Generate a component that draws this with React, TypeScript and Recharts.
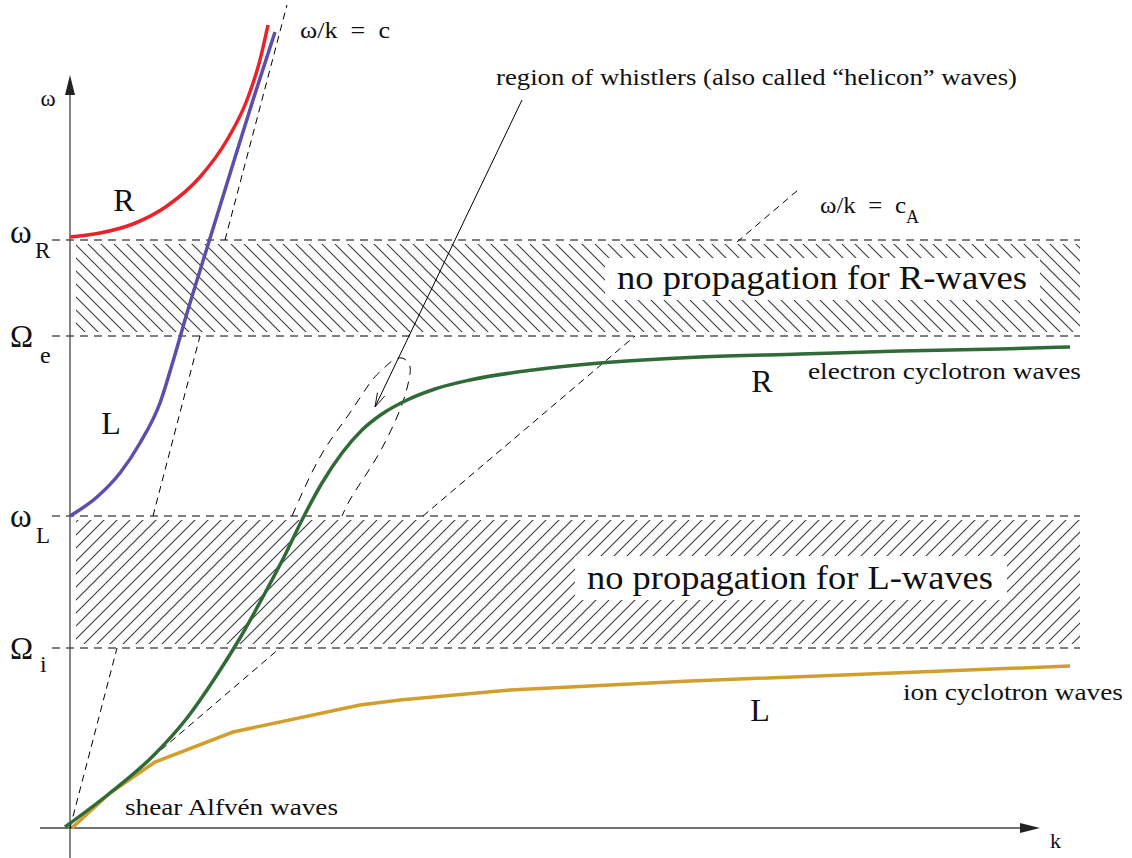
import React from "react";
import { ComposedChart, Line, XAxis, YAxis, ReferenceLine, ReferenceArea, ReferenceDot } from "recharts";

// plot units: one unit = one pixel, origin where the k and ω axes cross
const R_HIGH = [
  { x: 0, y: 591 }, { x: 30, y: 595 }, { x: 63, y: 604 }, { x: 97, y: 622 }, { x: 130, y: 651 },
  { x: 157, y: 688 }, { x: 177, y: 728 }, { x: 190, y: 768 }, { x: 198, y: 803 },
];
const L_HIGH = [
  { x: 0, y: 312 }, { x: 27, y: 331 }, { x: 50, y: 355 }, { x: 70, y: 385 }, { x: 90, y: 425 },
  { x: 104, y: 470 }, { x: 117, y: 515 }, { x: 137, y: 580 }, { x: 163, y: 664 }, { x: 183, y: 728 },
  { x: 205, y: 796 },
];
const R_LOW = [
  { x: -5, y: 1 }, { x: 40, y: 35 }, { x: 83, y: 72 }, { x: 117, y: 110 }, { x: 145, y: 150 },
  { x: 170, y: 190 }, { x: 195, y: 235 }, { x: 215, y: 273 }, { x: 233, y: 310 }, { x: 252, y: 345 },
  { x: 272, y: 375 }, { x: 292, y: 398 }, { x: 312, y: 414 }, { x: 335, y: 427 }, { x: 365, y: 439 },
  { x: 400, y: 448 }, { x: 463, y: 458 }, { x: 530, y: 465 }, { x: 630, y: 471 }, { x: 730, y: 474 },
  { x: 830, y: 477 }, { x: 930, y: 479 }, { x: 1000, y: 481 },
];
const L_LOW = [
  { x: 2, y: 0 }, { x: 40, y: 35 }, { x: 85, y: 66 }, { x: 163, y: 96 }, { x: 290, y: 123 },
  { x: 330, y: 128 }, { x: 440, y: 138 }, { x: 620, y: 147 }, { x: 1000, y: 162 },
];

// ω/k = c and ω/k = c_A, visible pieces between the stop bands
const LIGHT_LINE = [
  [{ x: 0, y: 0 }, { x: 47, y: 180 }],
  [{ x: 83, y: 312 }, { x: 130, y: 492 }],
  [{ x: 155, y: 588 }, { x: 217, y: 823 }],
];
const ALFVEN_LINE = [
  [{ x: 0, y: 0 }, { x: 210, y: 180 }],
  [{ x: 353, y: 312 }, { x: 565, y: 492 }],
  [{ x: 667, y: 586 }, { x: 728, y: 638 }],
];
const WHISTLER_LOOP = [
  { x: 222, y: 312 }, { x: 250, y: 371 }, { x: 277, y: 411 }, { x: 300, y: 445 }, { x: 312, y: 458 },
  { x: 322, y: 467 }, { x: 332, y: 470 }, { x: 339, y: 464 }, { x: 340, y: 454 }, { x: 336, y: 436 },
  { x: 327, y: 411 }, { x: 307, y: 371 }, { x: 284, y: 335 }, { x: 272, y: 312 },
];
const WHISTLER_ARROW = [{ x: 452, y: 728 }, { x: 305, y: 421 }];

const LEVELS = [588, 492, 312, 180]; // ωR, Ωe, ωL, Ωi
const BANDS = [
  { lo: 492, hi: 588, fill: "url(#hatchR)" },
  { lo: 180, hi: 312, fill: "url(#hatchL)" },
];
const BOXES = [
  { x1: 535, x2: 970, y1: 528, y2: 570 },
  { x1: 505, x2: 937, y1: 228, y2: 272 },
];

const NB = "\u00a0";
type Note = { text: string; x: number; y: number; size: number; width?: number; anchor?: "start" | "middle" };
const NOTES: Note[] = [
  { text: `ω/k${NB}${NB}=${NB}${NB}c`, x: 230, y: 798, size: 23, width: 90 },
  { text: "ω", x: -22, y: 730, size: 23, anchor: "middle" },
  { text: "R", x: 54, y: 628, size: 32, anchor: "middle" },
  { text: "L", x: 41, y: 405, size: 32, anchor: "middle" },
  { text: "R", x: 692, y: 447, size: 32, anchor: "middle" },
  { text: "L", x: 690, y: 118, size: 32, anchor: "middle" },
  { text: "electron cyclotron waves", x: 738, y: 457, size: 24, width: 273 },
  { text: "ion cyclotron waves", x: 833, y: 136, size: 24, width: 220 },
  { text: "shear Alfvén waves", x: 55, y: 21, size: 24, width: 213 },
  { text: "region of whistlers (also called “helicon” waves)", x: 426, y: 751, size: 24, width: 521 },
  { text: `ω/k${NB}${NB}=${NB}${NB}c`, x: 750, y: 623, size: 23, width: 86 },
  { text: "A", x: 836, y: 611, size: 18 },
  { text: "no propagation for R-waves", x: 547, y: 551, size: 34, width: 410 },
  { text: "no propagation for L-waves", x: 517, y: 251, size: 34, width: 406 },
  { text: "k", x: 980, y: -12, size: 22 },
  { text: "ω", x: -60, y: 596, size: 33 },
  { text: "R", x: -35, y: 578, size: 23 },
  { text: "Ω", x: -60, y: 492, size: 31 },
  { text: "e", x: -30, y: 473, size: 24 },
  { text: "ω", x: -60, y: 312, size: 33 },
  { text: "L", x: -34, y: 293, size: 23 },
  { text: "Ω", x: -60, y: 180, size: 31 },
  { text: "i", x: -30, y: 164, size: 24 },
];

const FONT = "Liberation Serif, DejaVu Serif, serif";

function noteShape(n: Note) {
  return (p: any) => (
    <text
      x={p.cx}
      y={p.cy}
      style={{ fontFamily: FONT, fontSize: n.size }}
      fill="#111"
      textAnchor={n.anchor ?? "start"}
      dominantBaseline="central"
      textLength={n.width}
      lengthAdjust={n.width ? "spacingAndGlyphs" : undefined}
    >
      {n.text}
    </text>
  );
}

// dx, dy: direction of the arrow in screen pixels
function arrowHead(dx: number, dy: number, filled: boolean, len: number, half: number) {
  return (p: any) => {
    const a = Math.atan2(dy, dx);
    const bx = p.cx - len * Math.cos(a);
    const by = p.cy - len * Math.sin(a);
    const nx = -Math.sin(a) * half;
    const ny = Math.cos(a) * half;
    if (filled) {
      return <polygon points={`${p.cx},${p.cy} ${bx + nx},${by + ny} ${bx - nx},${by - ny}`} fill="#222" />;
    }
    return (
      <path
        d={`M${bx + nx},${by + ny} L${p.cx},${p.cy} L${bx - nx},${by - ny}`}
        fill="none"
        stroke="#111"
        strokeWidth={1}
      />
    );
  };
}

export default function App() {
  const [a0, a1] = WHISTLER_ARROW;
  return (
    <div style={{ position: "absolute", left: 0, top: 0, width: 1132, height: 858, background: "#fff" }}>
      <svg width={0} height={0} style={{ position: "absolute" }}>
        <defs>
          <pattern id="hatchR" width={13} height={13} patternUnits="userSpaceOnUse">
            <rect width={13} height={13} fill="#fff" />
            <path d="M0,0 L13,13 M-2,11 L2,15 M11,-2 L15,2" stroke="#3a3a3a" strokeWidth={1.1} />
          </pattern>
          <pattern id="hatchL" width={13} height={13} patternUnits="userSpaceOnUse">
            <rect width={13} height={13} fill="#fff" />
            <path d="M0,13 L13,0 M-2,2 L2,-2 M11,15 L15,11" stroke="#3a3a3a" strokeWidth={1.1} />
          </pattern>
        </defs>
      </svg>
      <ComposedChart width={1132} height={858} margin={{ top: 0, right: 0, bottom: 0, left: 0 }}>
        <XAxis type="number" dataKey="x" domain={[-70, 1062]} hide allowDataOverflow />
        <YAxis type="number" dataKey="y" domain={[-30, 828]} hide allowDataOverflow />

        {BANDS.map((b, i) => (
          <ReferenceArea key={`band${i}`} x1={6} x2={1010} y1={b.lo + 4} y2={b.hi - 4}
            fill={b.fill} fillOpacity={1} stroke="none" />
        ))}
        {BOXES.map((b, i) => (
          <ReferenceArea key={`box${i}`} x1={b.x1} x2={b.x2} y1={b.y1} y2={b.y2}
            fill="#fff" fillOpacity={1} stroke="none" />
        ))}

        {LEVELS.map((y) => (
          <ReferenceLine key={`lvl${y}`} segment={[{ x: -18, y }, { x: 1010, y }]}
            stroke="#000" strokeWidth={1} strokeDasharray="8 6" />
        ))}
        <ReferenceLine segment={[{ x: -30, y: 0 }, { x: 952, y: 0 }]} stroke="#444" strokeWidth={1.3} />
        <ReferenceLine segment={[{ x: 0, y: -30 }, { x: 0, y: 735 }]} stroke="#444" strokeWidth={1.3} />

        {LIGHT_LINE.map((seg, i) => (
          <Line key={`c${i}`} data={seg} dataKey="y" type="linear" stroke="#000" strokeWidth={1}
            strokeDasharray="7 5" dot={false} activeDot={false} isAnimationActive={false} />
        ))}
        {ALFVEN_LINE.map((seg, i) => (
          <Line key={`ca${i}`} data={seg} dataKey="y" type="linear" stroke="#000" strokeWidth={1}
            strokeDasharray="7 5" dot={false} activeDot={false} isAnimationActive={false} />
        ))}
        <Line data={WHISTLER_LOOP} dataKey="y" type="natural" stroke="#000" strokeWidth={1}
          strokeDasharray="9 7" dot={false} activeDot={false} isAnimationActive={false} />
        <Line data={WHISTLER_ARROW} dataKey="y" type="linear" stroke="#000" strokeWidth={1}
          dot={false} activeDot={false} isAnimationActive={false} />

        <Line data={L_LOW} dataKey="y" type="linear" stroke="#d29f2f" strokeWidth={3.5}
          dot={false} activeDot={false} isAnimationActive={false} />
        <Line data={R_LOW} dataKey="y" type="monotone" stroke="#306a36" strokeWidth={3.5}
          dot={false} activeDot={false} isAnimationActive={false} />
        <Line data={L_HIGH} dataKey="y" type="monotone" stroke="#5b4fae" strokeWidth={3.5}
          dot={false} activeDot={false} isAnimationActive={false} />
        <Line data={R_HIGH} dataKey="y" type="monotone" stroke="#e8232b" strokeWidth={3.5}
          dot={false} activeDot={false} isAnimationActive={false} />

        <ReferenceDot x={970} y={0} r={0} shape={arrowHead(1, 0, true, 20, 5)} />
        <ReferenceDot x={0} y={753} r={0} shape={arrowHead(0, -1, true, 20, 5)} />
        <ReferenceDot x={a1.x} y={a1.y} r={0}
          shape={arrowHead(a1.x - a0.x, -(a1.y - a0.y), false, 14, 4)} />

        {NOTES.map((n, i) => (
          <ReferenceDot key={`note${i}`} x={n.x} y={n.y} r={0} ifOverflow="visible" shape={noteShape(n)} />
        ))}
      </ComposedChart>
    </div>
  );
}
